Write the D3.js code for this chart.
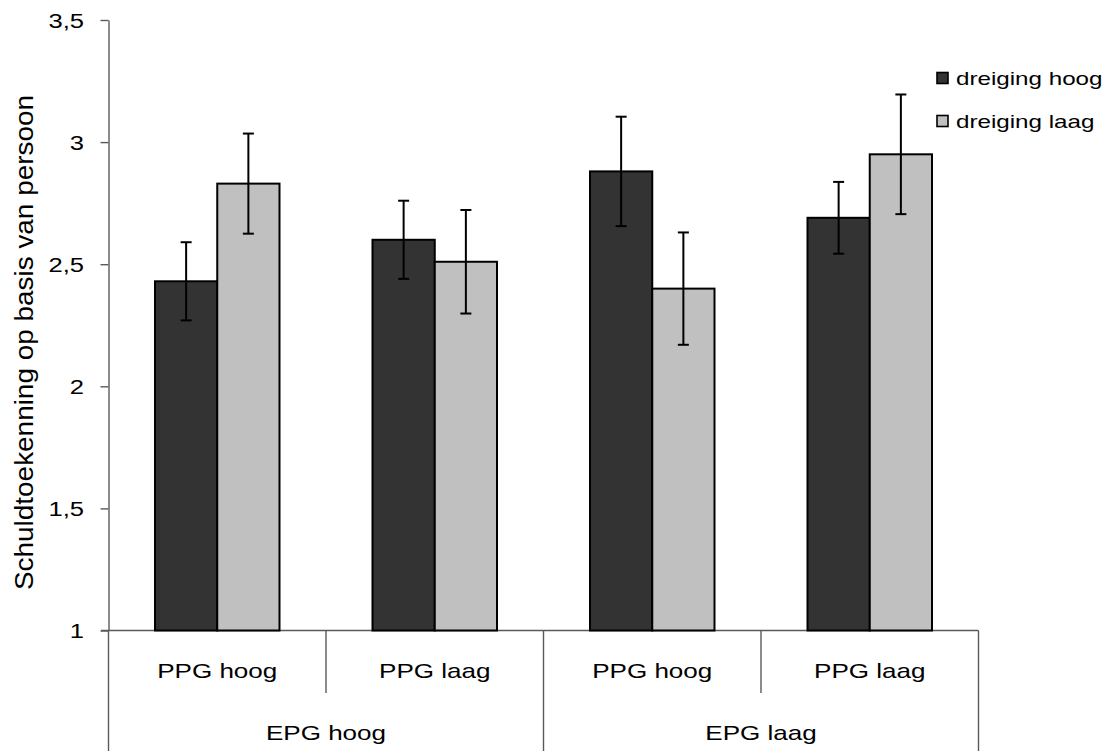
<!DOCTYPE html>
<html><head><meta charset="utf-8">
<script src="https://cdn.jsdelivr.net/npm/d3@7"></script>
<style>
body{margin:0;background:#fff}
svg{display:block}
text{font-family:"Liberation Sans",Arial,sans-serif;fill:#000}
</style>
</head><body>
<svg id="c" width="1111" height="751"></svg>
<script>
// ---- data ----
const categories = ["PPG hoog","PPG laag","PPG hoog","PPG laag"];
const groups = ["EPG hoog","EPG laag"];
const series = ["dreiging hoog","dreiging laag"];
const dreigingHoog = [2.43, 2.60, 2.88, 2.69];
const dreigingLaag = [2.83, 2.51, 2.40, 2.95];
const errHoog = [0.16, 0.16, 0.224, 0.147];
const errLaag = [0.205, 0.212, 0.23, 0.245];
const yTicks = [1, 1.5, 2, 2.5, 3, 3.5];
const yTickLabels = ["1","1,5","2","2,5","3","3,5"];
const yTitle = "Schuldtoekenning op basis van persoon";
const seriesColors = ["#333333", "#c0c0c0"];

const svg = d3.select("#c");
const axisColor = "#5a5a5a";

function stretch(sel, k){
  sel.each(function(){
    const len = this.getComputedTextLength();
    d3.select(this).attr("textLength", len*k).attr("lengthAdjust","spacingAndGlyphs");
  });
}

const y = d3.scaleLinear().domain([1, 3.5]).range([630.5, 20]);
const x0 = d3.scaleBand().domain(d3.range(categories.length)).range([108.5, 978.5]);
const bw = x0.bandwidth();
const x1 = d3.scaleBand().domain(series).range([bw*0.2138, bw*0.7862]);

// y axis
const yAxis = d3.axisLeft(y).tickValues(yTicks)
  .tickFormat((d,i)=>yTickLabels[i]).tickSize(8).tickSizeOuter(0).tickPadding(8);
const gy = svg.append("g").attr("transform","translate(108.5,0)").call(yAxis);
gy.select(".domain").attr("stroke", axisColor).attr("stroke-width",1.4);
gy.selectAll(".tick line").attr("stroke", axisColor).attr("stroke-width",1.4);
const kTick = 1.28;
gy.selectAll(".tick text").attr("font-size",20).attr("font-family",'"Liberation Sans",Arial,sans-serif')
  .attr("fill","#000").attr("dy","0.35em").attr("x",-24.5/kTick)
  .attr("transform",`scale(${kTick},1)`);
// y axis extension below baseline
svg.append("line").attr("x1",108.5).attr("x2",108.5).attr("y1",y(1)).attr("y2",751)
  .attr("stroke",axisColor).attr("stroke-width",1.4);

// x axis baseline
svg.append("line").attr("x1",101).attr("x2",x0.range()[1]).attr("y1",y(1)).attr("y2",y(1))
  .attr("stroke",axisColor).attr("stroke-width",1.4);

// separators
const bounds = d3.range(categories.length+1).map(i => i < categories.length ? x0(i) : x0.range()[1]);
bounds.forEach((bx,i)=>{
  if(i===0) return;
  const outer = (i % 2 === 0);
  svg.append("line").attr("x1",bx).attr("x2",bx).attr("y1",y(1)).attr("y2", outer ? 751 : 693)
    .attr("stroke",axisColor).attr("stroke-width",1.4);
});

// category labels
svg.selectAll(".cat").data(categories).join("text").attr("class","cat")
  .attr("x",(d,i)=>x0(i)+bw/2).attr("y",678).attr("text-anchor","middle")
  .attr("font-size",21).text(d=>d).call(stretch,1.24);
svg.selectAll(".grp").data(groups).join("text").attr("class","grp")
  .attr("x",(d,i)=>x0(i*2)+bw).attr("y",740).attr("text-anchor","middle")
  .attr("font-size",21).text(d=>d).call(stretch,1.24);

// bars
const rows = categories.map((c,i)=>({i, vals:[
  {s:series[0], v:dreigingHoog[i], e:errHoog[i], c:seriesColors[0]},
  {s:series[1], v:dreigingLaag[i], e:errLaag[i], c:seriesColors[1]}]}));
const g = svg.selectAll(".grpbar").data(rows).join("g")
  .attr("transform",d=>`translate(${x0(d.i)},0)`);
g.selectAll("rect").data(d=>d.vals).join("rect")
  .attr("x",d=>x1(d.s)).attr("width",x1.bandwidth())
  .attr("y",d=>y(d.v)).attr("height",d=>y(1)-y(d.v))
  .attr("fill",d=>d.c).attr("stroke","#000").attr("stroke-width",2);
// error bars
const eb = g.selectAll(".eb").data(d=>d.vals).join("g").attr("class","eb");
const cap = 5.5;
eb.append("line").attr("x1",d=>x1(d.s)+x1.bandwidth()/2).attr("x2",d=>x1(d.s)+x1.bandwidth()/2)
  .attr("y1",d=>y(d.v+d.e)).attr("y2",d=>y(d.v-d.e)).attr("stroke","#000").attr("stroke-width",2);
eb.append("line").attr("x1",d=>x1(d.s)+x1.bandwidth()/2-cap).attr("x2",d=>x1(d.s)+x1.bandwidth()/2+cap)
  .attr("y1",d=>y(d.v+d.e)).attr("y2",d=>y(d.v+d.e)).attr("stroke","#000").attr("stroke-width",2);
eb.append("line").attr("x1",d=>x1(d.s)+x1.bandwidth()/2-cap).attr("x2",d=>x1(d.s)+x1.bandwidth()/2+cap)
  .attr("y1",d=>y(d.v-d.e)).attr("y2",d=>y(d.v-d.e)).attr("stroke","#000").attr("stroke-width",2);

// y title
svg.append("text").attr("transform","translate(33,342.5) rotate(-90)")
  .attr("text-anchor","middle").attr("font-size",26).text(yTitle)
  .attr("textLength",495).attr("lengthAdjust","spacingAndGlyphs");

// legend
const lg = svg.selectAll(".lg").data(series).join("g").attr("class","lg")
  .attr("transform",(d,i)=>`translate(937,${78 + i*43})`);
lg.append("rect").attr("x",0).attr("y",-5.5).attr("width",11).attr("height",11)
  .attr("fill",(d,i)=>seriesColors[i]).attr("stroke","#000").attr("stroke-width",1.6);
lg.append("text").attr("x",19).attr("y",0).attr("dy","0.35em").attr("font-size",18.6)
  .text(d=>d).call(stretch,1.3);
</script>
</body></html>
